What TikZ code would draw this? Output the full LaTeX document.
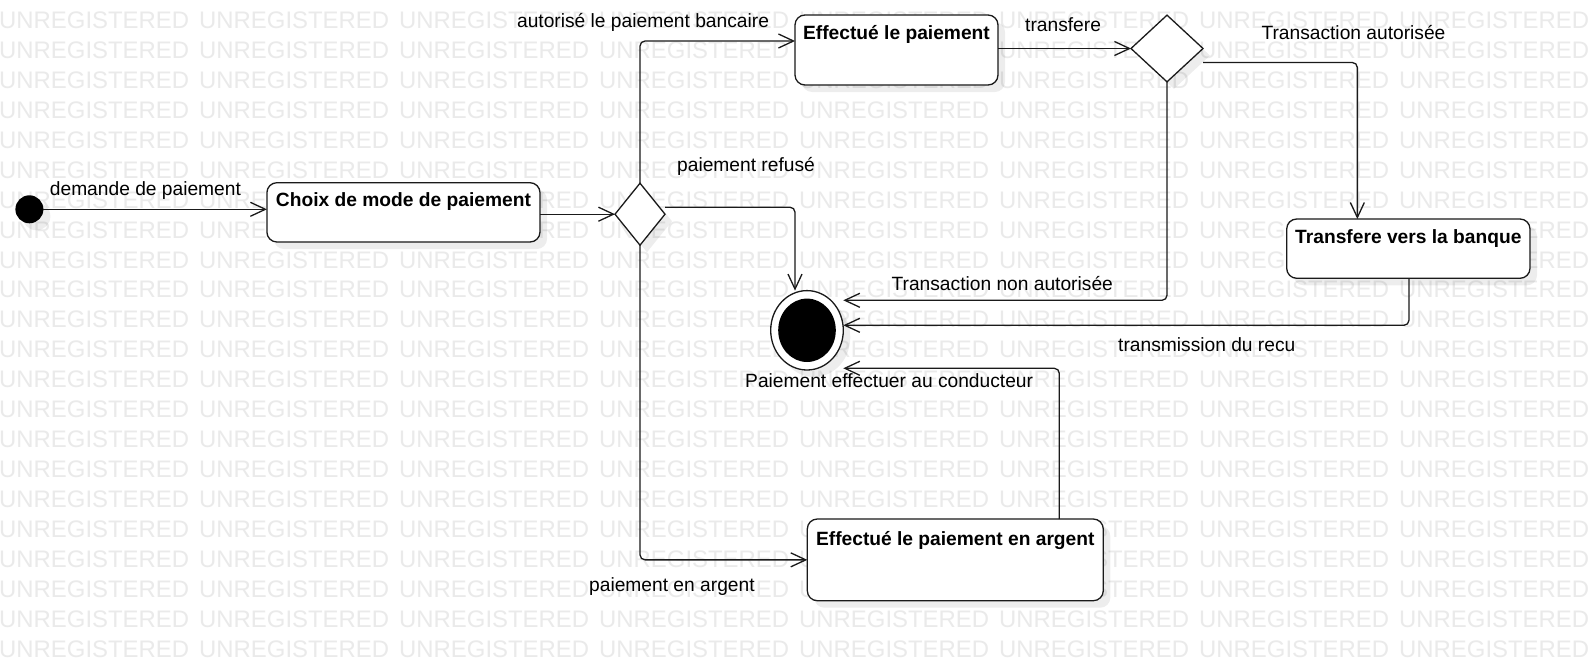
\documentclass[tikz,border=0pt]{standalone}
\usepackage{fontspec}
\setmainfont{Liberation Sans}
\usetikzlibrary{arrows.meta,shapes.geometric,shadows}
\definecolor{wmgray}{HTML}{EAEAEA}
\definecolor{lc}{HTML}{1A1A1A}
\begin{document}
\begin{tikzpicture}[x=1pt,y=-1pt,
  shd/.style={drop shadow={shadow xshift=7pt,shadow yshift=-7pt,fill=black,opacity=0.07}},
  stbox/.style={draw=lc,line width=1.3pt,fill=white,rounded corners=10pt,inner sep=0pt,outer sep=0pt,anchor=north west,font=\fontsize{19.2}{23}\selectfont\bfseries,shd},
  dec/.style={diamond,draw=lc,line width=1.3pt,fill=white,inner sep=0pt,outer sep=0pt,shd},
  arr/.style={draw=lc,line width=1.3pt,rounded corners=5pt,-{Straight Barb[length=15pt,width=14pt]}},
  lbl/.style={anchor=base west,inner sep=0pt,font=\fontsize{19.2}{23}\selectfont},
  wm/.style={anchor=base west,inner sep=0pt,text=wmgray,font=\fontsize{23.9}{28}\selectfont}]
\useasboundingbox (0,0) rectangle (1590,661);
\fill[white] (0,0) rectangle (1590,661);
% watermark
\foreach \r in {0,...,21}{\foreach \c in {0,...,7}{%
  \node[wm] (w\r-\c) at ({200*\c-1},{28.4+29.95*\r}) {UNREGISTERED};}}
% nodes
\node[circle,fill=black,minimum size=28pt,inner sep=0pt,outer sep=0pt,shd] (init) at (29.4,209.3) {};
\node[stbox,minimum width=273.1pt,text height=24pt,text depth=35.3pt] (choix) at (266.9,182.7) {Choix de mode de paiement};
\node[dec,minimum width=50pt,minimum height=62pt] (d1) at (640,214.2) {};
\node[stbox,minimum width=203pt,text height=25pt,text depth=45pt] (eff) at (795,15) {Effectué le paiement};
\node[dec,minimum width=72pt,minimum height=66.7pt] (d2) at (1167,48.5) {};
\node[stbox,minimum width=243.3pt,text height=24.3pt,text depth=35pt] (trans) at (1286.7,219) {Transfere vers la banque};
\node[stbox,minimum width=296pt,text height=26pt,text depth=55.7pt] (arg) at (807.3,519) {Effectué le paiement en argent};
\node[ellipse,draw=lc,line width=1.3pt,fill=white,minimum width=72.6pt,minimum height=79.4pt,inner sep=0pt,outer sep=0pt,shd] (final) at (807,330.3) {};
\fill[black] (final.center) ellipse [x radius=28.8pt,y radius=31.7pt];
% connectors
\draw[arr] (init.east) -- (init -| choix.west);
\draw[arr] (d1.west -| choix.east) -- (d1.west);
\draw[arr] (d1.north) |- ([yshift=9pt]eff.west);
\draw[arr] (d2.west -| eff.east) -- (d2.west);
\draw[arr] ([yshift=-14pt]d2.east) -| ([xshift=-51pt]trans.north);
\draw[arr] (d2.south) |- ([yshift=30pt]final.east);
\draw[arr] ([xshift=0.6pt]trans.south) |- ([yshift=5pt]final.east);
\draw[arr] ([xshift=104pt]arg.north) |- ([yshift=-38pt]final.east);
\draw[arr] ([yshift=7pt]d1.east) -| ([xshift=-12pt]final.north);
\draw[arr] (d1.south) |- (arg.west);
% labels
\node[lbl] (l1) at (49.7,195.8) {demande de paiement};
\node[lbl] (l2) at (516.9,28) {autorisé le paiement bancaire};
\node[lbl] (l3) at (1025,31.7) {transfere};
\node[lbl] (l4) at (1261.3,39.5) {Transaction autorisée};
\node[lbl] (l5) at (677,171.5) {paiement refusé};
\node[lbl] (l6) at (891.4,290) {Transaction non autorisée};
\node[lbl] (l7) at (1118,351) {transmission du recu};
\node[lbl] (l8) at (745,387.5) {Paiement effectuer au conducteur};
\node[lbl] (l9) at (589,591.7) {paiement en argent};
\end{tikzpicture}
\end{document}
